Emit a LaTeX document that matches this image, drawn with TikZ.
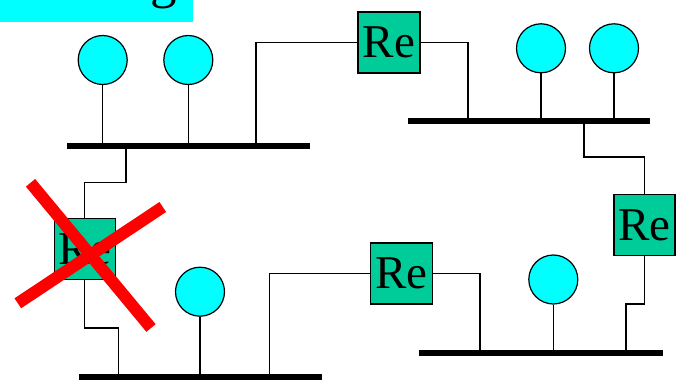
\documentclass[tikz,border=0pt]{standalone}
\usepackage{fontspec}
\setmainfont{Liberation Serif}
\definecolor{hostcyan}{RGB}{0,255,255}
\definecolor{repgreen}{RGB}{0,204,153}
\definecolor{crossred}{RGB}{255,0,0}
\begin{document}
\begin{tikzpicture}[x=1pt,y=-1pt,
  host/.style={circle,draw=black,line width=1.2pt,fill=hostcyan,minimum size=49pt,inner sep=0pt},
  repeater/.style={rectangle,draw=black,line width=1.2pt,fill=repgreen,minimum width=62pt,minimum height=61pt,inner sep=0pt,font=\fontsize{47}{50}\selectfont},
  wire/.style={draw=black,line width=1.2pt},
  bus/.style={draw=black,line width=6pt},
  cross/.style={draw=crossred,line width=12pt}]
\useasboundingbox (0,0) rectangle (684,383);
\begin{scope}
\clip (0,0) rectangle (684,383);
% title strip, running off the top edge
\fill[hostcyan] (0,0) rectangle (193.3,21.7);
\node[anchor=base east,inner sep=0pt,font=\fontsize{53}{56}\selectfont] (title) at (177,-3) {working};
\end{scope}

% bus end points
\coordinate (b1w) at (67,145.7);  \coordinate (b1e) at (310,145.7);
\coordinate (b2w) at (408,121.3); \coordinate (b2e) at (650,121.3);
\coordinate (b3w) at (419,352.7); \coordinate (b3e) at (662.7,352.7);
\coordinate (b4w) at (79,377.2);  \coordinate (b4e) at (321.7,377.2);

% hosts
\node[host] (h1) at (102.7,60) {};
\node[host] (h2) at (188.3,60) {};
\node[host] (h3) at (541,48.3) {};
\node[host] (h4) at (614,48.3) {};
\node[host] (h5) at (553.3,279.5) {};
\node[host] (h6) at (200,291.7) {};

% repeaters
\node[repeater] (rtop) at (389,42.5) {Re};
\node[repeater,minimum width=61pt] (rright) at (644.5,225) {Re};
\node[repeater] (rmid) at (401.2,273.5) {Re};
\node[repeater,minimum width=61pt] (rleft) at (84.8,249.3) {Re};

% taps on the buses
\coordinate (t1) at (256,145.7);
\coordinate (t2) at (468,121.3);
\coordinate (t3) at (584,121.3);
\coordinate (t4) at (626,352.7);
\coordinate (t5) at (480,352.7);
\coordinate (t6) at (269.3,377.2);
\coordinate (t7) at (126,145.7);
\coordinate (t8) at (118.7,377.2);

% host drops
\draw[wire] (h1.south) -- (h1.south |- b1w);
\draw[wire] (h2.south) -- (h2.south |- b1w);
\draw[wire] (h3.south) -- (h3.south |- b2w);
\draw[wire] (h4.south) -- (h4.south |- b2w);
\draw[wire] (h5.south) -- (h5.south |- b3w);
\draw[wire] (h6.south) -- (h6.south |- b4w);

% repeater links
\draw[wire] (rtop.west) -| (t1);
\draw[wire] (rtop.east) -| (t2);
\draw[wire] (t3) -- (584,157) -| (rright.north);
\draw[wire] (rright.south) |- (626,304) -- (t4);
\draw[wire] (rmid.east) -| (t5);
\draw[wire] (rmid.west) -| (t6);
\draw[wire] (t7) -- (126,182.7) -| (rleft.north);
\draw[wire] (rleft.south) |- (118.7,328) -- (t8);

% buses
\draw[bus] (b1w) -- (b1e);
\draw[bus] (b2w) -- (b2e);
\draw[bus] (b3w) -- (b3e);
\draw[bus] (b4w) -- (b4e);

% failed repeater
\draw[cross] (30.5,182.8) -- (151,328);
\draw[cross] (17.8,303.3) -- (162.8,207);
\end{tikzpicture}
\end{document}
